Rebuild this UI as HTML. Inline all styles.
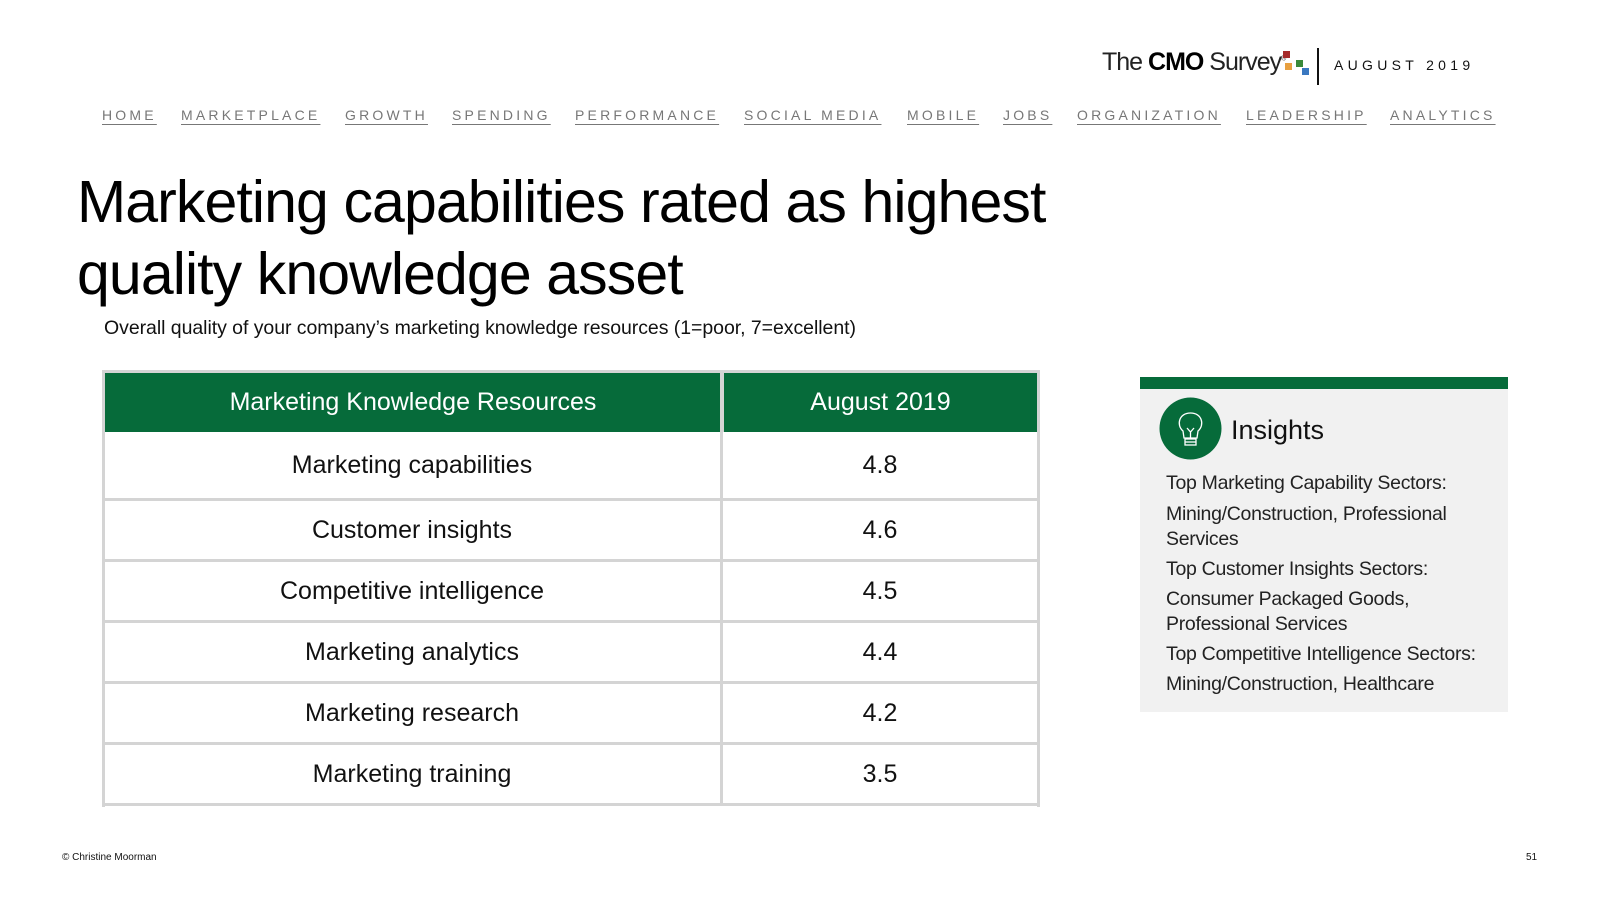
<!DOCTYPE html>
<html><head><meta charset="utf-8"><style>
*{margin:0;padding:0;box-sizing:border-box}
body{width:1600px;height:900px;background:#fff;position:relative;overflow:hidden;font-family:"Liberation Sans",Arial,sans-serif;color:#111}
.abs{position:absolute}
.nav a{position:absolute;top:107px;font-size:14px;letter-spacing:3.2px;color:#777;text-decoration:underline;text-underline-offset:4px;white-space:nowrap}
.row{position:absolute;left:103px;width:936px;display:flex;border-bottom:3px solid #d4d4d4}
.row div{display:flex;align-items:center;justify-content:center;font-size:25px;color:#111}
.ins{position:absolute;left:1166px;font-size:19.5px;color:#222;letter-spacing:-0.3px;white-space:nowrap}
</style></head><body>
<div class="abs" style="left:1102px;top:48px;font-size:25px;letter-spacing:-1px;color:#222;white-space:nowrap">The <b style="color:#000">CMO</b> Survey<sup style="font-size:7px">®</sup></div>
<div class="abs" style="left:1283px;top:51px;width:7px;height:7px;background:#a52a2a"></div>
<div class="abs" style="left:1285px;top:63px;width:7px;height:7px;background:#e8a040"></div>
<div class="abs" style="left:1296px;top:60px;width:7px;height:7px;background:#3a8a3a"></div>
<div class="abs" style="left:1302px;top:68px;width:7px;height:7px;background:#3a78c0"></div>
<div class="abs" style="left:1317px;top:48px;width:2px;height:37px;background:#111"></div>
<div class="abs" style="left:1334px;top:57px;font-size:14px;letter-spacing:4.3px;color:#111">AUGUST 2019</div>
<div class="nav">
<a style="left:102px">HOME</a>
<a style="left:181px">MARKETPLACE</a>
<a style="left:345px">GROWTH</a>
<a style="left:452px">SPENDING</a>
<a style="left:575px">PERFORMANCE</a>
<a style="left:744px">SOCIAL MEDIA</a>
<a style="left:907px">MOBILE</a>
<a style="left:1003px">JOBS</a>
<a style="left:1077px">ORGANIZATION</a>
<a style="left:1246px">LEADERSHIP</a>
<a style="left:1390px">ANALYTICS</a>
</div>
<div class="abs" style="left:77px;top:166px;font-size:59px;line-height:72px;letter-spacing:-0.9px;color:#000">Marketing capabilities rated as highest<br>quality knowledge asset</div>
<div class="abs" style="left:104px;top:317px;font-size:19.5px;letter-spacing:-0.05px;color:#111">Overall quality of your company’s marketing knowledge resources (1=poor, 7=excellent)</div>

<div class="abs" style="left:102px;top:370px;width:938px;height:437px;border:3px solid #d4d4d4;border-bottom:0"></div>
<div class="abs" style="left:105px;top:373px;width:932px;height:59px;background:#066b3a;display:flex;color:#fff;font-size:25px">
<div style="width:616px;display:flex;align-items:center;justify-content:center">Marketing Knowledge Resources</div>
<div style="width:3px;background:#d4d4d4"></div>
<div style="flex:1;display:flex;align-items:center;justify-content:center">August 2019</div>
</div>
<div id="rows"></div>
<div class="abs" style="left:720px;top:373px;width:3px;height:433px;background:#d4d4d4"></div>

<div class="abs" style="left:1140px;top:377px;width:368px;height:335px;background:#f1f1f1;border-top:12px solid #066b3a"></div>
<svg class="abs" style="left:1159px;top:397px" width="63" height="63"><circle cx="31.5" cy="31.5" r="31" fill="#066b3a"/><g fill="none" stroke="#fff" stroke-width="1.3"><path d="M24 34 C17 28 20 16 31.5 16 C43 16 46 28 39 34 L38 41 L25 41 Z"/><path d="M28 31 L31.5 35 L35 31 M31.5 35 V41"/><rect x="26" y="42" width="11" height="6"/><line x1="26" y1="45" x2="37" y2="45"/></g></svg>
<div class="abs" style="left:1231px;top:415px;font-size:27px;color:#111">Insights</div>
<div class="ins" style="top:472px">Top Marketing Capability Sectors:</div>
<div class="ins" style="top:503px">Mining/Construction, Professional</div>
<div class="ins" style="top:528px">Services</div>
<div class="ins" style="top:558px">Top Customer Insights Sectors:</div>
<div class="ins" style="top:588px">Consumer Packaged Goods,</div>
<div class="ins" style="top:613px">Professional Services</div>
<div class="ins" style="top:643px">Top Competitive Intelligence Sectors:</div>
<div class="ins" style="top:673px">Mining/Construction, Healthcare</div>

<div class="abs" style="left:62px;top:852px;font-size:10px;color:#111">© Christine Moorman</div>
<div class="abs" style="left:1526px;top:852px;font-size:10px;color:#111">51</div>
<script>
const resources=["Marketing capabilities","Customer insights","Competitive intelligence","Marketing analytics","Marketing research","Marketing training"];
const scores=["4.8","4.6","4.5","4.4","4.2","3.5"];
const bounds=[432,501,562,623,684,745,806];
const c=document.getElementById('rows');
resources.forEach((r,i)=>{
  const d=document.createElement('div');
  d.className='row';
  
  
  d.style.top=bounds[i]+'px';
  d.style.height=(bounds[i+1]-bounds[i])+'px';
  d.innerHTML='<div style="width:618px">'+r+'</div><div style="flex:1">'+scores[i]+'</div>';
  c.appendChild(d);
});
</script>
</body></html>
